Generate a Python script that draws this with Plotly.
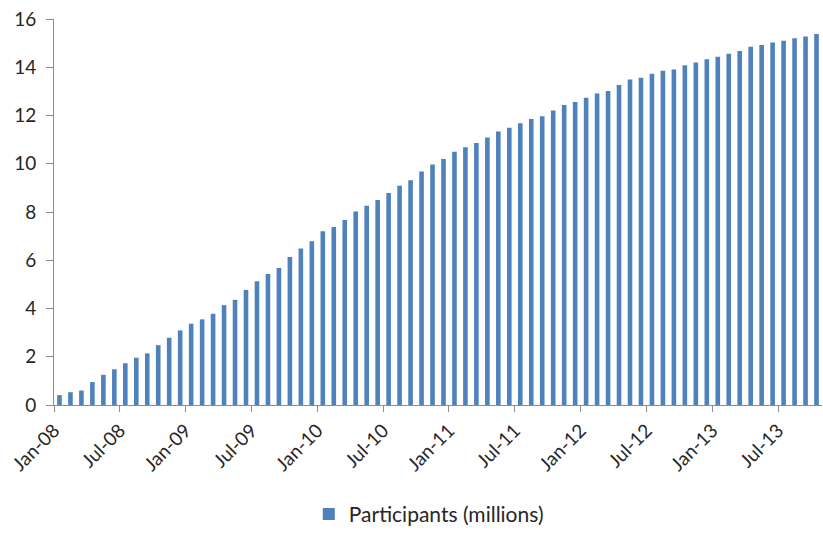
import pandas as pd
import plotly.graph_objects as go

# Monthly participants (millions), Jan-08 through Oct-13
months = pd.date_range("2008-01-01", periods=70, freq="MS").strftime("%b-%y").tolist()
participants = [
    0.41, 0.53, 0.60, 0.95, 1.25, 1.48, 1.73, 1.96, 2.14, 2.48,
    2.79, 3.09, 3.37, 3.55, 3.78, 4.14, 4.36, 4.77, 5.13, 5.43,
    5.68, 6.13, 6.49, 6.79, 7.20, 7.38, 7.67, 8.02, 8.26, 8.50,
    8.79, 9.09, 9.32, 9.68, 9.97, 10.20, 10.50, 10.68, 10.86, 11.09,
    11.34, 11.49, 11.68, 11.85, 11.97, 12.21, 12.44, 12.56, 12.74, 12.91,
    13.02, 13.26, 13.49, 13.56, 13.73, 13.86, 13.91, 14.08, 14.20, 14.33,
    14.44, 14.56, 14.67, 14.85, 14.92, 15.03, 15.10, 15.20, 15.27, 15.38,
]
tick_labels = ["Jan-08", "Jul-08", "Jan-09", "Jul-09", "Jan-10", "Jul-10",
               "Jan-11", "Jul-11", "Jan-12", "Jul-12", "Jan-13", "Jul-13"]

x_pos = list(range(len(months)))
# ticks sit on the left boundary of each labelled month
tick_pos = [months.index(lbl) - 0.5 for lbl in tick_labels]

font_family = "Lato, 'Open Sans', sans-serif"
axis_color = "#8c8c8c"

fig = go.Figure(
    go.Bar(
        x=x_pos,
        y=participants,
        width=0.42,
        marker=dict(color="#4f81bd", line=dict(width=0)),
        name="Participants (millions)",
        customdata=months,
        hovertemplate="%{customdata}: %{y}<extra></extra>",
        showlegend=True,
    )
)

fig.update_layout(
    width=823,
    height=536,
    margin=dict(l=54, r=1, t=19, b=128),
    paper_bgcolor="white",
    plot_bgcolor="white",
    font=dict(family=font_family, size=18, color="#262626"),
    showlegend=True,
    legend=dict(
        orientation="h",
        x=0.488,
        xanchor="center",
        y=-0.23,
        yanchor="top",
        font=dict(size=21, color="#262626"),
        itemwidth=30,
    ),
    xaxis=dict(
        range=[-0.5, len(months) - 0.5],
        tickmode="array",
        tickvals=tick_pos,
        ticktext=tick_labels,
        tickangle=-45,
        showline=True,
        linecolor=axis_color,
        linewidth=1,
        ticks="outside",
        ticklen=6,
        tickcolor=axis_color,
        showgrid=False,
        zeroline=False,
        tickfont=dict(size=19, color="#262626"),
    ),
    yaxis=dict(
        range=[0, 16],
        dtick=2,
        showline=True,
        linecolor=axis_color,
        linewidth=1,
        ticks="outside",
        ticklen=7,
        tickcolor=axis_color,
        showgrid=False,
        zeroline=False,
        ticklabelstandoff=6,
        tickfont=dict(size=19, color="#262626"),
    ),
)

fig.write_html("out.html")
